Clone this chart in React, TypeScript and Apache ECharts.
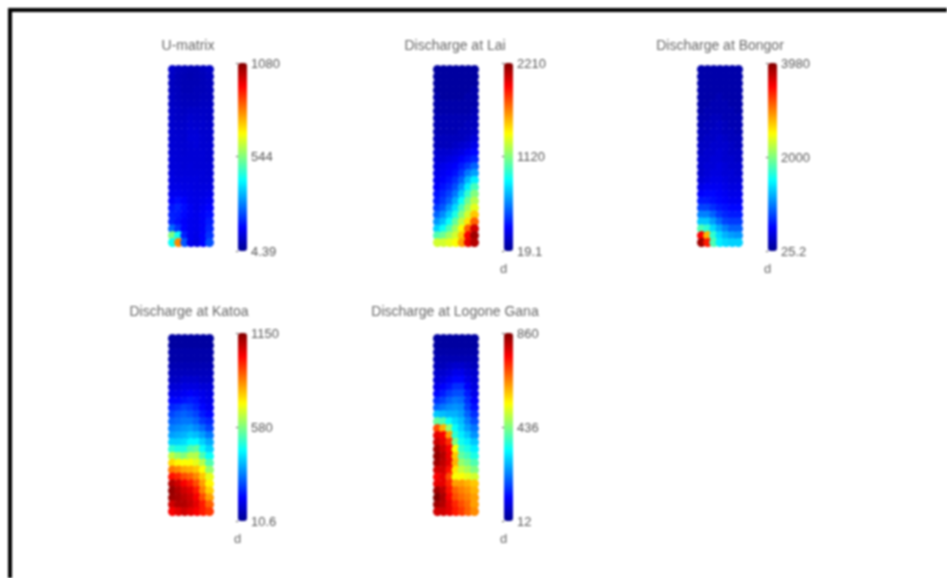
import React, { useEffect, useRef } from "react";
import * as echarts from "echarts";

const jetColors = ["#00008f", "#0000ff", "#0080ff", "#00ffff", "#80ff80", "#ffff00", "#ff8000", "#ff0000", "#800000"];

const panelTitles = ["U-matrix", "Discharge at Lai", "Discharge at Bongor", "Discharge at Katoa", "Discharge at Logone Gana"];
const scaleTicks = [
  [4.39, 544, 1080],
  [19.1, 1120, 2210],
  [25.2, 2000, 3980],
  [10.6, 580, 1150],
  [12, 436, 860],
];
const scaleUnits = ["", "d", "d", "d", "d"];

const uMatrix = [
  [75, 60, 55, 50, 50, 60, 70],
  [70, 55, 50, 45, 50, 55, 65],
  [65, 55, 50, 50, 50, 55, 60],
  [65, 60, 50, 50, 55, 55, 60],
  [70, 60, 55, 55, 55, 60, 60],
  [70, 65, 60, 60, 60, 65, 65],
  [75, 70, 65, 70, 70, 70, 70],
  [80, 70, 70, 80, 75, 75, 70],
  [80, 75, 75, 85, 80, 80, 75],
  [85, 80, 80, 90, 90, 80, 80],
  [85, 85, 80, 95, 95, 85, 80],
  [90, 85, 85, 90, 95, 85, 85],
  [90, 90, 85, 90, 90, 90, 85],
  [95, 90, 90, 90, 90, 90, 85],
  [95, 95, 90, 95, 90, 90, 90],
  [100, 95, 95, 95, 95, 95, 90],
  [105, 100, 100, 100, 100, 95, 95],
  [110, 110, 105, 105, 100, 100, 100],
  [120, 120, 115, 110, 105, 105, 110],
  [135, 150, 135, 115, 110, 115, 125],
  [160, 175, 150, 125, 110, 125, 140],
  [170, 165, 145, 125, 115, 130, 150],
  [175, 155, 135, 120, 115, 130, 165],
  [250, 190, 140, 120, 115, 130, 175],
  [540, 420, 170, 120, 110, 135, 190],
  [420, 800, 230, 120, 105, 140, 220],
];

const lai = [
  [60, 60, 60, 60, 60, 60, 60],
  [60, 60, 60, 60, 60, 60, 60],
  [60, 60, 60, 60, 60, 60, 60],
  [60, 60, 60, 60, 60, 60, 85],
  [85, 60, 60, 60, 60, 85, 85],
  [85, 85, 85, 85, 85, 85, 85],
  [85, 85, 85, 85, 85, 85, 107],
  [107, 107, 107, 107, 107, 107, 130],
  [107, 107, 107, 107, 107, 130, 130],
  [107, 107, 107, 107, 130, 130, 150],
  [130, 130, 130, 130, 130, 150, 194],
  [130, 130, 130, 150, 172, 194, 238],
  [172, 172, 172, 194, 216, 260, 304],
  [194, 194, 216, 238, 282, 326, 370],
  [216, 238, 260, 282, 348, 413, 500],
  [238, 260, 282, 326, 413, 545, 632],
  [260, 282, 326, 391, 500, 676, 807],
  [282, 326, 370, 457, 610, 807, 983],
  [326, 370, 435, 545, 720, 939, 1114],
  [348, 413, 500, 654, 851, 1070, 1224],
  [413, 479, 610, 764, 983, 1180, 1333],
  [500, 588, 720, 895, 1114, 1289, 1508],
  [610, 698, 851, 1048, 1245, 1442, 1727],
  [742, 851, 1005, 1180, 1377, 1727, 2034],
  [1005, 1070, 1180, 1289, 1508, 1946, 2143],
  [1289, 1289, 1333, 1377, 1596, 1990, 2100],
];

const bongor = [
  [144, 144, 144, 144, 144, 144, 144],
  [144, 144, 144, 144, 144, 144, 144],
  [144, 144, 144, 144, 144, 144, 144],
  [144, 144, 144, 144, 144, 144, 144],
  [144, 144, 144, 183, 144, 144, 144],
  [144, 144, 183, 183, 183, 144, 144],
  [144, 183, 183, 183, 183, 183, 144],
  [183, 183, 223, 223, 183, 183, 183],
  [183, 223, 223, 262, 223, 183, 183],
  [223, 223, 262, 262, 223, 223, 183],
  [223, 262, 262, 302, 262, 223, 223],
  [262, 262, 302, 302, 302, 262, 223],
  [262, 302, 302, 341, 302, 262, 262],
  [302, 302, 341, 341, 302, 302, 262],
  [302, 341, 341, 381, 341, 302, 302],
  [302, 341, 381, 381, 341, 341, 302],
  [341, 381, 420, 420, 381, 341, 341],
  [420, 460, 460, 460, 420, 381, 381],
  [500, 539, 539, 500, 460, 420, 420],
  [618, 618, 579, 539, 500, 460, 460],
  [776, 776, 697, 618, 579, 539, 539],
  [1014, 1014, 895, 737, 658, 618, 618],
  [1291, 1291, 1132, 935, 776, 737, 737],
  [1805, 1686, 1370, 1172, 1014, 895, 895],
  [3505, 2794, 1686, 1370, 1211, 1132, 1093],
  [3861, 3387, 1805, 1449, 1370, 1330, 1330],
];

const katoa = [
  [34, 34, 34, 34, 34, 34, 34],
  [34, 34, 34, 34, 34, 34, 34],
  [45, 45, 45, 45, 45, 45, 45],
  [45, 45, 45, 45, 45, 45, 45],
  [57, 57, 57, 57, 57, 57, 57],
  [68, 68, 68, 68, 68, 68, 68],
  [79, 79, 91, 91, 91, 79, 79],
  [102, 102, 114, 114, 114, 102, 102],
  [125, 125, 136, 148, 136, 125, 114],
  [159, 159, 171, 182, 171, 136, 125],
  [193, 205, 228, 216, 193, 159, 136],
  [228, 250, 262, 250, 228, 182, 159],
  [262, 273, 285, 285, 262, 216, 193],
  [296, 307, 319, 330, 307, 273, 228],
  [330, 342, 353, 376, 364, 330, 285],
  [387, 387, 399, 433, 433, 387, 342],
  [490, 467, 467, 524, 547, 444, 387],
  [649, 604, 581, 638, 638, 524, 444],
  [763, 729, 718, 718, 695, 638, 524],
  [877, 855, 820, 809, 786, 718, 604],
  [991, 969, 923, 900, 855, 786, 695],
  [1094, 1060, 1014, 980, 923, 832, 729],
  [1128, 1094, 1060, 1037, 980, 866, 775],
  [1117, 1105, 1083, 1060, 1014, 923, 832],
  [1060, 1094, 1094, 1071, 1037, 980, 900],
  [1014, 1037, 1060, 1037, 1014, 980, 946],
];

const logoneGana = [
  [29, 29, 29, 29, 29, 29, 29],
  [29, 29, 29, 29, 29, 29, 29],
  [37, 37, 37, 37, 37, 37, 37],
  [46, 46, 46, 46, 46, 46, 46],
  [54, 54, 63, 71, 71, 63, 54],
  [71, 71, 80, 97, 97, 80, 71],
  [80, 88, 105, 122, 122, 97, 80],
  [97, 114, 131, 156, 156, 114, 88],
  [122, 139, 165, 182, 182, 139, 97],
  [156, 173, 199, 216, 207, 156, 114],
  [199, 216, 232, 241, 232, 173, 131],
  [283, 275, 266, 266, 249, 199, 156],
  [411, 394, 334, 300, 275, 224, 182],
  [690, 606, 453, 334, 292, 249, 216],
  [775, 758, 623, 368, 317, 283, 241],
  [801, 775, 716, 436, 343, 317, 283],
  [835, 801, 758, 538, 377, 351, 317],
  [843, 818, 767, 589, 411, 385, 351],
  [835, 809, 775, 606, 453, 428, 394],
  [792, 792, 741, 563, 495, 470, 436],
  [758, 775, 690, 538, 538, 521, 504],
  [775, 775, 724, 623, 623, 606, 589],
  [835, 809, 741, 673, 648, 631, 606],
  [860, 826, 758, 690, 665, 648, 623],
  [835, 818, 775, 724, 690, 665, 623],
  [792, 792, 775, 733, 707, 673, 640],
];

const panelValues = [uMatrix, lai, bongor, katoa, logoneGana];

const mapLeft = [168, 433, 697, 168, 433];
const mapTop = [65, 65, 65, 334, 334];
const barLeft = [238, 504, 768, 238, 504];
const barTop = [63, 63, 63, 333, 333];
const titleX = [188, 455, 720, 189, 455];
const titleY = [38, 38, 38, 304, 304];

const MAP_W = 46;
const MAP_H = 182;
const DOT = 9;
const BAR_W = 9;
const BAR_H = 188;

export default function App() {
  const ref = useRef<HTMLDivElement>(null);
  useEffect(() => {
    const chart = echarts.init(ref.current!, undefined, { renderer: "svg" });
    const grids: any[] = [];
    const xAxes: any[] = [];
    const yAxes: any[] = [];
    const series: any[] = [];
    const visualMaps: any[] = [];
    const titles: any[] = [];
    panelValues.forEach((rows, i) => {
      const nRows = rows.length;
      const nCols = rows[0].length;
      const g = grids.length;
      grids.push({
        left: mapLeft[i] + DOT / 2,
        top: mapTop[i] + DOT / 2,
        width: MAP_W - DOT,
        height: MAP_H - DOT,
      });
      xAxes.push({ gridIndex: g, type: "value", min: 0, max: nCols - 1, show: false });
      yAxes.push({ gridIndex: g, type: "value", min: 0, max: nRows - 1, show: false });
      const data: number[][] = [];
      rows.forEach((row, r) => row.forEach((v, c) => data.push([c, nRows - 1 - r, v])));
      const ticks = scaleTicks[i];
      series.push({
        type: "scatter",
        xAxisIndex: g,
        yAxisIndex: g,
        data,
        symbol: "circle",
        symbolSize: DOT,
        clip: false,
        silent: true,
        itemStyle: { opacity: 1 },
      });
      visualMaps.push({
        type: "continuous",
        seriesIndex: i,
        dimension: 2,
        min: ticks[0],
        max: ticks[2],
        left: barLeft[i],
        top: barTop[i],
        itemWidth: BAR_W,
        itemHeight: BAR_H,
        padding: 0,
        calculable: false,
        hoverLink: false,
        inRange: { color: jetColors },
      });
      const b = grids.length;
      grids.push({ left: barLeft[i], top: barTop[i], width: BAR_W, height: BAR_H });
      xAxes.push({
        gridIndex: b,
        type: "value",
        min: 0,
        max: 1,
        name: scaleUnits[i],
        nameLocation: "middle",
        nameGap: 11,
        nameTextStyle: { color: "#666", fontSize: 13, fontFamily: "Liberation Sans", padding: [0, 10, 0, 0] },
        axisLine: { show: false },
        axisTick: { show: false },
        axisLabel: { show: false },
        splitLine: { show: false },
      });
      yAxes.push({
        gridIndex: b,
        type: "value",
        position: "right",
        min: ticks[0],
        max: ticks[2],
        axisLine: { show: false },
        splitLine: { show: false },
        axisTick: { show: true, inside: true, length: 2, lineStyle: { color: "#555" }, customValues: ticks },
        axisLabel: {
          show: true,
          customValues: ticks,
          formatter: (v: number) => String(v),
          color: "#555",
          fontSize: 13,
          margin: 4,
          fontFamily: "Liberation Sans",
        },
      });
      titles.push({
        text: panelTitles[i],
        left: titleX[i],
        top: titleY[i],
        textAlign: "center",
        padding: 0,
        textStyle: { color: "#666", fontSize: 14, fontWeight: "normal", fontFamily: "Liberation Sans" },
      });
    });
    chart.setOption({
      animation: false,
      backgroundColor: "#fff",
      title: titles,
      grid: grids,
      xAxis: xAxes,
      yAxis: yAxes,
      visualMap: visualMaps,
      series,
      graphic: [
        { type: "line", shape: { x1: 10, y1: 8, x2: 10, y2: 578 }, style: { stroke: "#000", lineWidth: 4 } },
        { type: "line", shape: { x1: 8, y1: 10, x2: 947, y2: 10 }, style: { stroke: "#000", lineWidth: 4 } },
      ],
    });
    return () => chart.dispose();
  }, []);
  return (
    <div
      ref={ref}
      style={{ position: "absolute", left: 0, top: 0, width: 947, height: 578, filter: "blur(1px)" }}
    />
  );
}
